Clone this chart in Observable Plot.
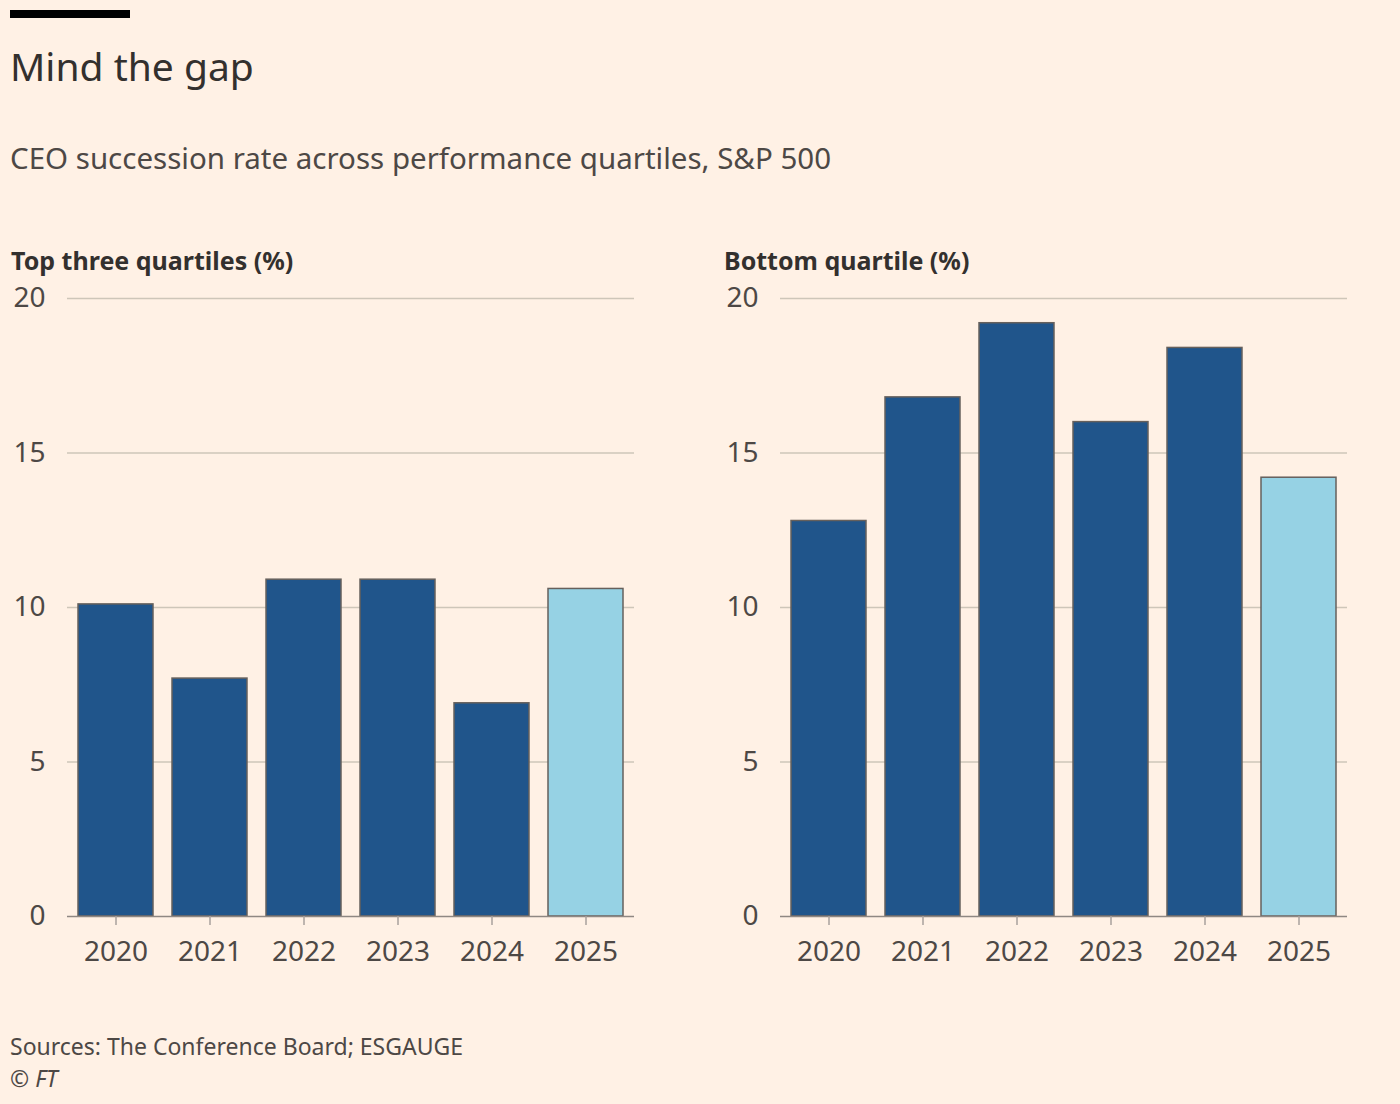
<!DOCTYPE html>
<html>
<head>
<meta charset="utf-8">
<script src="https://cdn.jsdelivr.net/npm/d3@7"></script>
<script src="https://cdn.jsdelivr.net/npm/@observablehq/plot@0.6"></script>
<style>
  html, body { margin: 0; padding: 0; background: #FFF1E5; }
  body { width: 1400px; height: 1104px; position: relative; font-family: "Noto Sans", sans-serif; color: #33302E; overflow: hidden; }
  .bar { position: absolute; left: 10px; top: 10px; width: 120px; height: 8px; background: #000; }
  .title { position: absolute; left: 10px; top: 40px; font-size: 39px; line-height: 52px; color: #33302E; }
  .subtitle { position: absolute; left: 10px; top: 138px; font-size: 29.5px; line-height: 40px; color: #4D4845; }
  .panel { position: absolute; top: 240px; }
  .ptitle { font-size: 25px; font-weight: 700; line-height: 40px; color: #33302E; margin: 0 0 -4px 1px; }
  .source { position: absolute; left: 10px; top: 1030px; font-size: 23px; line-height: 32px; color: #4D4845; }
</style>
</head>
<body>
<div class="bar"></div>
<div class="title">Mind the gap</div>
<div class="subtitle">CEO succession rate across performance quartiles, S&amp;P 500</div>
<div class="panel" id="left" style="left:10px"><div class="ptitle">Top three quartiles (%)</div></div>
<div class="panel" id="right" style="left:723px"><div class="ptitle">Bottom quartile (%)</div></div>
<div class="source">Sources: The Conference Board; ESGAUGE<br>© <i>FT</i></div>
<script>
const years = ["2020", "2021", "2022", "2023", "2024", "2025"];
const topThree = [10.1, 7.7, 10.9, 10.9, 6.9, 10.6];
const bottomQuartile = [12.8, 16.8, 19.2, 16.0, 18.4, 14.2];
const yTicks = [0, 5, 10, 15, 20];
const highlightYear = "2025";

function chart(values) {
  const data = years.map((y, i) => ({year: y, value: values[i]}));
  return Plot.plot({
    width: 640,
    height: 709,
    marginLeft: 57,
    marginRight: 16,
    marginTop: 22,
    marginBottom: 69,
    style: {background: "transparent", fontFamily: "Noto Sans, sans-serif", fontSize: "28px", color: "#4D4845", overflow: "visible"},
    x: {domain: years, paddingInner: 0.2, paddingOuter: 0.1, label: null},
    y: {domain: [0, 20], label: null},
    marks: [
      Plot.ruleY(yTicks.filter(t => t > 0), {stroke: "#CEC6B9", strokeWidth: 1.5}),
      Plot.barY(data, {
        x: "year", y: "value",
        fill: d => d.year === highlightYear ? "#96D2E4" : "#20558B",
        stroke: "#66605C", strokeWidth: 1.5
      }),
      Plot.ruleY([0], {stroke: "#8F8883", strokeWidth: 1.5}),
      Plot.axisY({ticks: yTicks, tickSize: 0, tickPadding: 22, fontSize: 28, fill: "#4D4845"}),
      Plot.axisX({tickSize: 9, tickPadding: 16, stroke: "#A8A19C", strokeWidth: 1.5, fontSize: 28, fill: "#4D4845"})
    ]
  });
}

document.getElementById("left").appendChild(chart(topThree));
document.getElementById("right").appendChild(chart(bottomQuartile));
</script>
</body>
</html>
